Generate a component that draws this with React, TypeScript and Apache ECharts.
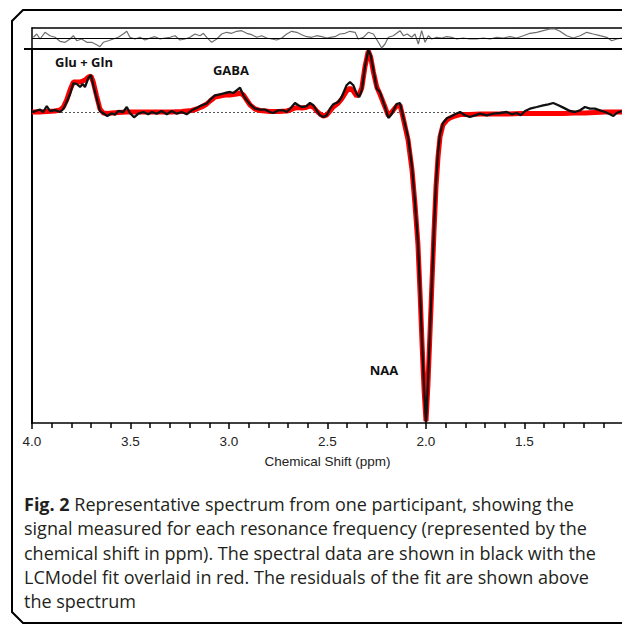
import React, { useEffect, useRef } from "react";
import * as echarts from "echarts";

// Chemical shift (ppm) vs signal (arbitrary units; baseline 0)
const measured: [number, number][] = [
  [4.0, 1], [3.993, 0], [3.976, 1.5], [3.959, 2.4], [3.943, 0], [3.925, 6], [3.909, 1], [3.883, 2], [3.858, 0],
  [3.841, 3], [3.824, 10], [3.807, 18], [3.79, 29], [3.773, 28], [3.756, 25], [3.743, 28],
  [3.731, 25], [3.714, 34], [3.701, 37], [3.689, 27], [3.672, 14], [3.655, 1], [3.638, -1.3],
  [3.618, -4], [3.595, -1.3], [3.579, -2.7], [3.562, 1], [3.537, 0], [3.519, 5], [3.503, -1],
  [3.482, -5.3], [3.46, -1.7], [3.435, 0], [3.41, -2.3], [3.392, 0], [3.367, -1.7], [3.342, 1],
  [3.316, -2.3], [3.291, 1], [3.265, -1.7], [3.24, 0], [3.215, -2.3], [3.189, 1.7], [3.164, 4],
  [3.139, 6.7], [3.113, 8.5], [3.096, 12.3], [3.071, 16.7], [3.046, 17.7], [3.02, 19], [2.995, 20],
  [2.978, 19], [2.961, 21.7], [2.944, 24.3], [2.927, 16.7], [2.91, 11.7], [2.893, 7.7], [2.868, 3.3],
  [2.843, 2.4], [2.817, 2.4], [2.792, 0], [2.775, -1], [2.75, 1.7], [2.724, 1.7], [2.707, 0],
  [2.69, 3.3], [2.665, 9], [2.648, 6.7], [2.631, 5], [2.609, 5.7], [2.589, 9], [2.572, 6.7],
  [2.555, 1.7], [2.538, -3.3], [2.521, -5], [2.504, -3.3], [2.487, 3.3], [2.471, 7.7], [2.445, 10],
  [2.428, 15], [2.403, 26.7], [2.386, 30], [2.369, 26.7], [2.352, 18.3], [2.339, 15], [2.326, 21.7],
  [2.31, 45], [2.293, 62], [2.281, 57], [2.267, 42], [2.25, 23.3], [2.234, 20], [2.208, 5],
  [2.191, -6], [2.174, -2], [2.149, 8], [2.132, 9], [2.117, -4], [2.091, -25], [2.071, -55],
  [2.056, -90], [2.041, -130], [2.03, -180], [2.02, -230], [2.01, -275], [2.0, -311], [1.99, -270],
  [1.98, -220], [1.97, -170], [1.959, -115], [1.949, -70], [1.939, -40], [1.929, -22], [1.914, -11],
  [1.893, -6], [1.878, -5], [1.853, -2.3], [1.827, 0], [1.802, -3.3], [1.777, -5], [1.751, -3.3],
  [1.726, -1.7], [1.692, -3.3], [1.658, -1.7], [1.624, -1], [1.59, 0], [1.565, -2.3], [1.54, -1],
  [1.519, -3.3], [1.497, 1], [1.472, 3.3], [1.438, 5], [1.405, 6.7], [1.379, 7.7], [1.354, 9],
  [1.328, 6.7], [1.303, 4.4], [1.269, 1], [1.244, 0], [1.218, 1.7], [1.193, 5], [1.168, 3.3],
  [1.142, 3.3], [1.117, 1.7], [1.091, 0], [1.066, -2.3], [1.049, -4], [1.032, -1], [1.007, 1],
];

const lcmodelFit: [number, number][] = [
  [4.0, 0], [3.959, 0], [3.925, 0.5], [3.883, 1], [3.858, 2], [3.841, 5], [3.824, 12], [3.807, 22],
  [3.79, 30], [3.773, 30], [3.756, 30], [3.743, 31], [3.731, 32], [3.714, 35], [3.701, 36],
  [3.689, 30], [3.672, 16], [3.655, 3], [3.638, -1], [3.618, -1.5], [3.595, -1], [3.562, -0.5],
  [3.519, 0], [3.482, 0], [3.435, 0], [3.392, 0], [3.342, 0], [3.291, 0], [3.24, 0.5], [3.189, 1.5],
  [3.164, 3], [3.139, 5], [3.113, 8], [3.096, 11], [3.071, 15], [3.046, 16], [3.02, 17], [2.995, 17],
  [2.978, 17.5], [2.961, 18], [2.944, 19], [2.927, 17], [2.91, 12], [2.893, 7], [2.868, 3],
  [2.843, 1.5], [2.817, 1], [2.792, 0.5], [2.75, 0.5], [2.707, 1], [2.69, 2], [2.665, 4],
  [2.648, 4.5], [2.631, 4], [2.609, 4.5], [2.589, 6], [2.572, 5], [2.555, 1], [2.538, -2],
  [2.521, -4], [2.504, -3], [2.487, 1], [2.471, 5], [2.445, 9], [2.428, 13], [2.403, 21],
  [2.386, 24], [2.369, 21], [2.352, 16], [2.339, 18], [2.326, 24], [2.31, 45], [2.293, 61],
  [2.281, 55], [2.267, 40], [2.25, 25], [2.234, 18], [2.208, 5], [2.191, -4], [2.174, 0],
  [2.149, 6], [2.132, 7], [2.117, -5], [2.091, -28], [2.071, -58], [2.056, -92], [2.041, -132],
  [2.03, -182], [2.02, -232], [2.01, -277], [2.0, -309], [1.99, -272], [1.98, -222], [1.97, -172],
  [1.959, -118], [1.949, -74], [1.939, -45], [1.929, -25], [1.914, -13], [1.893, -8], [1.878, -6],
  [1.853, -4], [1.827, -2.5], [1.777, -2.5], [1.726, -2], [1.658, -2], [1.59, -2], [1.519, -1.5],
  [1.472, -1.5], [1.405, -1.5], [1.354, -1.5], [1.303, -1.5], [1.244, -1], [1.193, -1], [1.142, -0.5],
  [1.091, 0], [1.0, 0],
];

const residuals: [number, number][] = [
  [3.993, 0.7], [3.976, 4], [3.959, -1], [3.934, 5.7], [3.909, 2.3], [3.883, 0.7], [3.858, -3.3],
  [3.832, -4.3], [3.807, -1], [3.79, 2.3], [3.773, -2.7], [3.748, -1], [3.722, -4.3], [3.697, -4.3],
  [3.672, -6.7], [3.655, -8.7], [3.638, -4.3], [3.613, -2.7], [3.587, -1], [3.562, 0.7], [3.537, 4],
  [3.519, 6.7], [3.503, 0.7], [3.477, -1], [3.452, 0.7], [3.426, -2], [3.401, 0], [3.376, 1.3],
  [3.35, -1], [3.325, 0], [3.299, 0.7], [3.274, 2.3], [3.249, -2], [3.223, -1], [3.198, 0.7],
  [3.173, 4], [3.147, 2.3], [3.13, 4.7], [3.113, 0.7], [3.088, -4.3], [3.062, -1], [3.037, 4],
  [3.012, 5.7], [2.986, 4.7], [2.961, 6.7], [2.936, 7.3], [2.91, 4.7], [2.885, 3.3], [2.859, 0.7],
  [2.834, 2.3], [2.809, 0], [2.783, -1], [2.758, -2], [2.732, 0], [2.707, 4], [2.682, 6.7],
  [2.656, 5.7], [2.631, 3.3], [2.606, 1.3], [2.58, 0.7], [2.555, 2.3], [2.529, 1.3], [2.504, 0],
  [2.487, 0.7], [2.462, 1.3], [2.437, 4], [2.411, 4.7], [2.386, 6.7], [2.36, 5.7], [2.344, -1],
  [2.318, 0.7], [2.293, 5.7], [2.267, 4], [2.242, -4.3], [2.225, -10], [2.208, -6], [2.191, 0.7],
  [2.166, 2.3], [2.149, 4.7], [2.132, 7.3], [2.115, 2.3], [2.095, 4], [2.073, 0.7], [2.056, 4],
  [2.039, -6], [2.022, 7.3], [2.005, -4.3], [1.988, 2.3], [1.971, -1], [1.946, 0.7], [1.92, 0],
  [1.895, 1.3], [1.87, 0.7], [1.844, -1], [1.811, 0], [1.777, -1], [1.743, -1], [1.709, 0],
  [1.675, -1], [1.641, 0.7], [1.608, 0], [1.574, 1.3], [1.54, 0], [1.506, 2.3], [1.472, 4.7],
  [1.438, 5.7], [1.405, 7.3], [1.371, 9], [1.345, 9], [1.32, 6.7], [1.286, 2.3], [1.252, 0],
  [1.218, 2.3], [1.184, 5.7], [1.151, 4], [1.117, 2.3], [1.083, 0.7], [1.057, -2.7], [1.032, -1],
  [1.007, 0],
];

const peakLabels = ["Glu + Gln", "GABA", "NAA"];

const captionLines = [
  "{b|Fig. 2} Representative spectrum from one participant, showing the",
  "signal measured for each resonance frequency (represented by the",
  "chemical shift in ppm). The spectral data are shown in black with the",
  "LCModel fit overlaid in red. The residuals of the fit are shown above",
  "the spectrum",
];

export default function App() {
  const ref = useRef<HTMLDivElement>(null);

  useEffect(() => {
    if (!ref.current) return;
    document.body.style.overflow = "hidden";
    const chart = echarts.init(ref.current, null, { renderer: "svg" });
    const capColor = "#231f20";
    const labelPos = [
      { x: 84, y: 62 },
      { x: 231, y: 70 },
      { x: 384, y: 370 },
    ];
    const hiddenAxisParts = {
      axisTick: { show: false },
      axisLabel: { show: false },
      splitLine: { show: false },
    };
    chart.setOption({
      animation: false,
      backgroundColor: "#ffffff",
      textStyle: { fontFamily: "Liberation Sans" },
      grid: [
        { left: 32, top: 49, width: 591, height: 374 },
        { left: 32, top: 28, width: 591, height: 21 },
      ],
      xAxis: [
        {
          gridIndex: 0,
          type: "value",
          inverse: true,
          min: 1,
          max: 4,
          interval: 0.5,
          axisLine: { onZero: false, lineStyle: { color: "#000", width: 1.5 } },
          axisTick: { show: true, length: 6, lineStyle: { color: "#000", width: 1.5 } },
          minorTick: { show: true, splitNumber: 5, length: 5, lineStyle: { color: "#000", width: 1.5 } },
          axisLabel: {
            color: "#222",
            fontSize: 13.5,
            fontFamily: "Liberation Sans",
            margin: 11,
            showMinLabel: false,
            formatter: (v: number) => v.toFixed(1),
          },
          splitLine: { show: false },
          name: "Chemical Shift (ppm)",
          nameLocation: "middle",
          nameGap: 31,
          nameTextStyle: { color: "#222", fontSize: 13.5, fontFamily: "Liberation Sans" },
        },
        {
          gridIndex: 1,
          type: "value",
          inverse: true,
          min: 1,
          max: 4,
          position: "top",
          axisLine: { show: true, onZero: false, lineStyle: { color: "#000", width: 1.5 } },
          ...hiddenAxisParts,
        },
      ],
      yAxis: [
        {
          gridIndex: 0,
          type: "value",
          min: -311,
          max: 63,
          axisLine: { show: true, onZero: false, lineStyle: { color: "#000", width: 2 } },
          ...hiddenAxisParts,
        },
        {
          gridIndex: 1,
          type: "value",
          min: -11,
          max: 10,
          axisLine: { show: true, onZero: false, lineStyle: { color: "#000", width: 1.5 } },
          ...hiddenAxisParts,
        },
      ],
      series: [
        {
          name: "LCModel fit",
          type: "line",
          xAxisIndex: 0,
          yAxisIndex: 0,
          data: lcmodelFit,
          showSymbol: false,
          symbol: "none",
          lineStyle: { color: "#ff0000", width: 5 },
          z: 2,
        },
        {
          name: "Spectrum",
          type: "line",
          xAxisIndex: 0,
          yAxisIndex: 0,
          data: measured,
          showSymbol: false,
          symbol: "none",
          lineStyle: { color: "#111", width: 2.3 },
          z: 3,
          markLine: {
            silent: true,
            symbol: "none",
            label: { show: false },
            lineStyle: { color: "#555", width: 1, type: [2, 2] },
            data: [{ yAxis: 0 }],
            z: 1,
          },
        },
        {
          name: "Residuals",
          type: "line",
          xAxisIndex: 1,
          yAxisIndex: 1,
          data: residuals,
          showSymbol: false,
          symbol: "none",
          lineStyle: { color: "#6e6e6e", width: 1.2 },
          markLine: {
            silent: true,
            symbol: "none",
            label: { show: false },
            lineStyle: { color: "#000", width: 1, type: "solid" },
            data: [{ yAxis: 0 }],
          },
        },
      ],
      graphic: [
        {
          type: "polyline",
          shape: {
            points: [
              [760, 10], [23, 10], [12, 21], [12, 612], [23, 623], [760, 623],
            ],
          },
          style: { fill: "none", stroke: "#000", lineWidth: 2 },
          silent: true,
        },
        {
          type: "line",
          shape: { x1: 24, y1: 49, x2: 700, y2: 49 },
          style: { stroke: "#000", lineWidth: 2 },
          silent: true,
        },
        ...peakLabels.map((t, i) => ({
          type: "text",
          x: labelPos[i].x,
          y: labelPos[i].y,
          style: {
            text: t,
            fontSize: 13,
            fontWeight: "bold",
            fontFamily: "Open Sans",
            fill: "#111",
            textAlign: "center",
            textVerticalAlign: "middle",
            align: "center",
            verticalAlign: "middle",
          },
        })),
        ...captionLines.map((t, i) => ({
          type: "text",
          x: 24,
          y: 504 + i * 24.3,
          style: {
            text: t,
            fontSize: 18,
            fontFamily: "Open Sans",
            fill: capColor,
            textAlign: "left",
            textVerticalAlign: "middle",
            align: "left",
            verticalAlign: "middle",
            rich: {
              b: {
                fontWeight: "bold",
                fontSize: 18,
                fontFamily: "Open Sans",
                fill: capColor,
                color: capColor,
              },
            },
          },
        })),
      ],
    });
    return () => {
      chart.dispose();
      document.body.style.overflow = "";
    };
  }, []);

  return (
    <div
      ref={ref}
      style={{ position: "absolute", left: 0, top: 0, width: 680, height: 626, background: "#fff" }}
    />
  );
}
